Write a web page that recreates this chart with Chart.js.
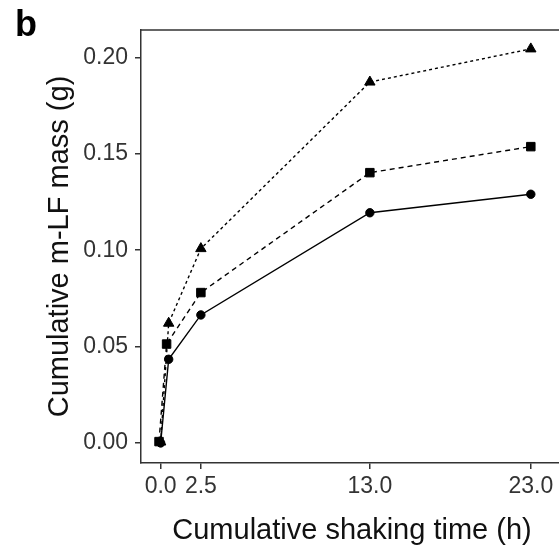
<!DOCTYPE html>
<html>
<head>
<meta charset="utf-8">
<script src="https://cdn.jsdelivr.net/npm/chart.js@4"></script>
<style>
  html, body { margin: 0; padding: 0; background: #fff; overflow: hidden; }
  canvas { display: block; }
</style>
</head>
<body>
<canvas id="massChart" width="570" height="547"></canvas>
<script>
// shaking time (h) at each sampling point
const timeCircle = [0, 0.5, 2.5, 13, 23];
const timeSquare = [-0.1, 0.37, 2.5, 13, 23];
const timeTriangle = [0, 0.5, 2.5, 13, 23];

// cumulative m-LF mass (g)
const massCircle = [0.000, 0.0434, 0.0664, 0.1194, 0.1290];
const massSquare = [0.0007, 0.0513, 0.0780, 0.1402, 0.1537];
const massTriangle = [0.0005, 0.0621, 0.1008, 0.1872, 0.2044];

const xTickValues = [0, 2.5, 13, 23];
const yTickValues = [0, 0.05, 0.10, 0.15, 0.20];

const panelLabel = 'b';
const xTitle = 'Cumulative shaking time (h)';
const yTitle = 'Cumulative m-LF mass (g)';

document.addEventListener('DOMContentLoaded', () => {
  const toPoints = (xs, ys) => xs.map((x, i) => ({ x: x, y: ys[i] }));

  // top/right border of the panel + the "b" tag
  const panelExtras = {
    id: 'panelExtras',
    afterDraw(chart) {
      const { ctx, chartArea } = chart;
      ctx.save();
      ctx.strokeStyle = '#333';
      ctx.lineWidth = 1.5;
      ctx.beginPath();
      ctx.moveTo(chartArea.left, chartArea.top);
      ctx.lineTo(chartArea.right, chartArea.top);
      ctx.lineTo(chartArea.right, chartArea.bottom);
      ctx.stroke();
      ctx.fillStyle = '#000';
      ctx.font = 'bold 36px "Liberation Sans", Arial, sans-serif';
      ctx.textBaseline = 'alphabetic';
      ctx.fillText(panelLabel, 15, 36);
      ctx.restore();
    }
  };

  const tickFont = { family: '"Liberation Sans", Arial, sans-serif', size: 23 };
  const titleFont = { family: '"Liberation Sans", Arial, sans-serif', size: 29, lineHeight: 1 };

  new Chart(document.getElementById('massChart'), {
    type: 'scatter',
    data: {
      datasets: [
        {
          data: toPoints(timeTriangle, massTriangle),
          showLine: true,
          borderColor: '#000',
          backgroundColor: '#000',
          borderWidth: 1.4,
          borderDash: [3, 3],
          pointStyle: 'triangle',
          pointRadius: 6,
          pointBorderWidth: 1
        },
        {
          data: toPoints(timeSquare, massSquare),
          showLine: true,
          borderColor: '#000',
          backgroundColor: '#000',
          borderWidth: 1.4,
          borderDash: [5, 4],
          pointStyle: 'rect',
          pointRadius: 6,
          pointBorderWidth: 1
        },
        {
          data: toPoints(timeCircle, massCircle),
          showLine: true,
          borderColor: '#000',
          backgroundColor: '#000',
          borderWidth: 1.4,
          pointStyle: 'circle',
          pointRadius: 4.2,
          pointBorderWidth: 1
        }
      ]
    },
    options: {
      responsive: false,
      animation: false,
      layout: { padding: { left: 0, right: 0, top: 30, bottom: 0 } },
      plugins: {
        legend: { display: false },
        tooltip: { enabled: false }
      },
      scales: {
        x: {
          type: 'linear',
          min: -1.22,
          max: 25,
          afterBuildTicks: (scale) => { scale.ticks = xTickValues.map(v => ({ value: v })); },
          afterFit: (scale) => {
            scale.height = 84;
            scale.paddingLeft = 0;
            scale.paddingRight = 0;
          },
          grid: { drawOnChartArea: false, drawTicks: true, tickLength: 6, color: '#333', lineWidth: 1.5 },
          border: { display: true, color: '#333', width: 1.5 },
          ticks: {
            font: tickFont,
            color: '#333',
            padding: 4,
            maxRotation: 0,
            autoSkip: false,
            callback: (v) => Number(v).toFixed(1)
          },
          title: {
            display: true,
            text: xTitle,
            font: titleFont,
            color: '#111',
            padding: { top: 0, bottom: 1.5 }
          }
        },
        y: {
          type: 'linear',
          min: -0.0104,
          max: 0.2142,
          afterBuildTicks: (scale) => { scale.ticks = yTickValues.map(v => ({ value: v })); },
          afterFit: (scale) => { scale.width = 141; },
          grid: { drawOnChartArea: false, drawTicks: true, tickLength: 6, color: '#333', lineWidth: 1.5 },
          border: { display: true, color: '#333', width: 1.5 },
          ticks: {
            font: tickFont,
            color: '#333',
            padding: 7,
            autoSkip: false,
            callback: (v) => Number(v).toFixed(2)
          },
          title: {
            display: true,
            text: yTitle,
            font: titleFont,
            color: '#111',
            padding: { top: 45.5, bottom: 0 }
          }
        }
      }
    },
    plugins: [panelExtras]
  });
});
</script>
</body>
</html>
